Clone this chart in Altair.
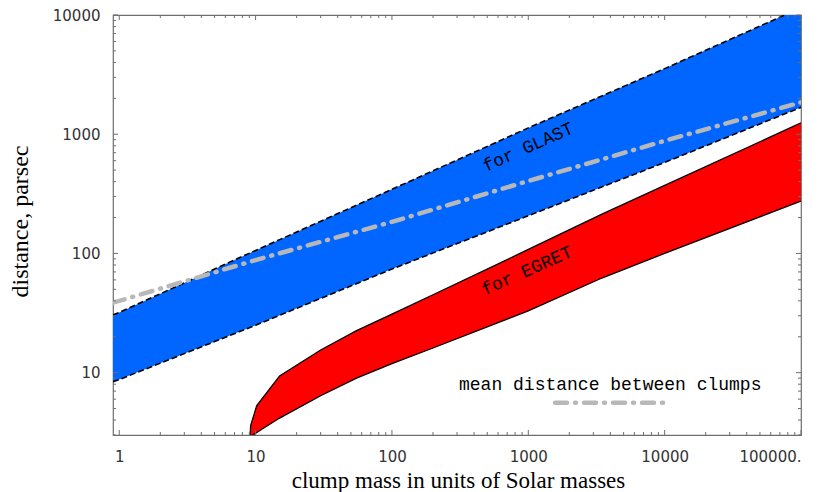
import altair as alt
import pandas as pd

# ---- data (x: clump mass [Msun], y: distance [pc]) ----
glast_mass = [0.9, 1, 10, 100, 1000, 10000, 100000]
glast_low = [8.4, 8.75, 25, 74, 207, 580, 1680]
glast_high = [30.5, 32, 106, 345, 1130, 3550, 11500]

egret_mass = [9.1, 9.2, 10.2, 15, 30, 55, 100, 200, 1000, 3500, 10000, 100000]
egret_low = [2.9, 2.92, 3.15, 4.16, 6.4, 9.0, 11.9, 16.1, 33, 62.5, 100, 275]
egret_high = [2.9, 3.6, 5.3, 9.4, 15.5, 22.5, 31, 45, 108, 215, 372, 1245]

mean_mass = [0.9, 1, 10, 100, 1000, 10000, 100000]
mean_dist = [38.7, 40, 88, 184, 405, 880, 1850]

legend_mass = [1570, 10000]
legend_dist = [5.6, 5.6]

labels_text = ["for GLAST", "for EGRET"]
labels_mass = [1000, 980]
labels_dist = [773, 71]

legend_text = ["mean distance between clumps"]
legend_text_mass = [3990]
legend_text_dist = [7.9]

x_major = [1, 10, 100, 1000, 10000, 100000]
x_minor = [m * 10 ** k for k in range(0, 5) for m in range(2, 10)]
y_major = [10, 100, 1000, 10000]
y_minor = [m * 10 ** k for k in range(0, 4) for m in range(2, 10) if m * 10 ** k >= 3]

W, H = 688, 420
FRAME = "#6e6e6e"

xs = alt.Scale(type="log", domain=[0.9, 100000], nice=False)
ys = alt.Scale(type="log", domain=[3, 10000], nice=False)

glast = pd.DataFrame({"M": glast_mass, "lo": glast_low, "hi": glast_high})
egret = pd.DataFrame({"M": egret_mass, "lo": egret_low, "hi": egret_high})
mean = pd.DataFrame({"M": mean_mass, "d": mean_dist})
leg = pd.DataFrame({"M": legend_mass, "d": legend_dist})
lab = pd.DataFrame({"M": labels_mass, "d": labels_dist, "t": labels_text})
legt = pd.DataFrame({"M": legend_text_mass, "d": legend_text_dist, "t": legend_text})

x_axis = alt.Axis(
    values=x_major,
    labelExpr="datum.value >= 100000 ? '100000.' : format(datum.value, 'd')",
    grid=False, ticks=False, tickSize=0, domain=False,
    labelPadding=14, labelFont="DejaVu Sans", labelFontSize=15, labelColor="#333333",
    title="clump mass in units of Solar masses",
    titleFont="Liberation Serif", titleFontSize=23, titleFontWeight="normal",
    titleColor="black", titleX=345, titleY=45, titleAlign="center", titleBaseline="middle",
)
y_axis = alt.Axis(
    values=y_major, format="d",
    grid=False, ticks=False, tickSize=0, domain=False,
    labelPadding=13, labelFont="DejaVu Sans", labelFontSize=15, labelColor="#333333",
    title="distance, parsec",
    titleFont="Liberation Serif", titleFontSize=24, titleFontWeight="normal",
    titleColor="black", titleX=-93, titleY=206, titleAngle=270,
    titleAlign="center", titleBaseline="middle",
)


def X():
    return alt.X("M:Q", scale=xs, axis=x_axis)


def Y(field):
    return alt.Y(field + ":Q", scale=ys, axis=y_axis)


glast_area = alt.Chart(glast).mark_area(color="#0066ff", clip=True).encode(
    x=X(), y=Y("lo"), y2="hi:Q")
glast_lo = alt.Chart(glast).mark_line(color="black", strokeWidth=1.6, strokeDash=[6, 3], clip=True).encode(
    x=X(), y=Y("lo"))
glast_hi = alt.Chart(glast).mark_line(color="black", strokeWidth=1.6, strokeDash=[6, 3], clip=True).encode(
    x=X(), y=Y("hi"))

egret_area = alt.Chart(egret).mark_area(color="#ff0000", clip=True).encode(
    x=X(), y=Y("lo"), y2="hi:Q")
egret_lo = alt.Chart(egret).mark_line(color="black", strokeWidth=1.3, clip=True).encode(
    x=X(), y=Y("lo"))
egret_hi = alt.Chart(egret).mark_line(color="black", strokeWidth=1.3, clip=True).encode(
    x=X(), y=Y("hi"))

dash_style = dict(color="#b8b8b8", strokeWidth=4.5, strokeDash=[12, 8, 1, 8], strokeCap="round", clip=True)
mean_line = alt.Chart(mean).mark_line(**dash_style).encode(x=X(), y=Y("d"))
leg_line = alt.Chart(leg).mark_line(**dash_style).encode(x=X(), y=Y("d"))

band_text = alt.Chart(lab).mark_text(
    font="Liberation Mono", fontSize=18, angle=336, align="center", baseline="middle", color="black"
).encode(x=X(), y=Y("d"), text="t:N")
leg_text = alt.Chart(legt).mark_text(
    font="Liberation Mono", fontSize=18, align="center", baseline="middle", color="black"
).encode(x=X(), y=Y("d"), text="t:N")


def xticks(vals, length):
    df = pd.DataFrame({"M": vals})
    bottom = alt.Chart(df).mark_rule(color=FRAME, strokeWidth=1).encode(
        x=X(), y=alt.value(H), y2=alt.value(H - length))
    top = alt.Chart(df).mark_rule(color=FRAME, strokeWidth=1).encode(
        x=X(), y=alt.value(0), y2=alt.value(length))
    return [bottom, top]


def yticks(vals, length):
    df = pd.DataFrame({"d": vals})
    left = alt.Chart(df).mark_rule(color=FRAME, strokeWidth=1).encode(
        y=Y("d"), x=alt.value(0), x2=alt.value(length))
    right = alt.Chart(df).mark_rule(color=FRAME, strokeWidth=1).encode(
        y=Y("d"), x=alt.value(W), x2=alt.value(W - length))
    return [left, right]


ticks = xticks(x_major, 5) + xticks(x_minor, 3) + yticks(y_major, 5) + yticks(y_minor, 3)

chart = alt.layer(
    glast_area, glast_lo, glast_hi,
    egret_area, egret_lo, egret_hi,
    mean_line, leg_line, band_text, leg_text,
    *ticks,
).properties(
    width=W, height=H,
    padding={"left": 0, "top": 0, "right": 0, "bottom": 0},
).configure_view(stroke=FRAME, strokeWidth=1.2)

chart.save("out.html", embed_options={"renderer": "svg", "actions": False})
